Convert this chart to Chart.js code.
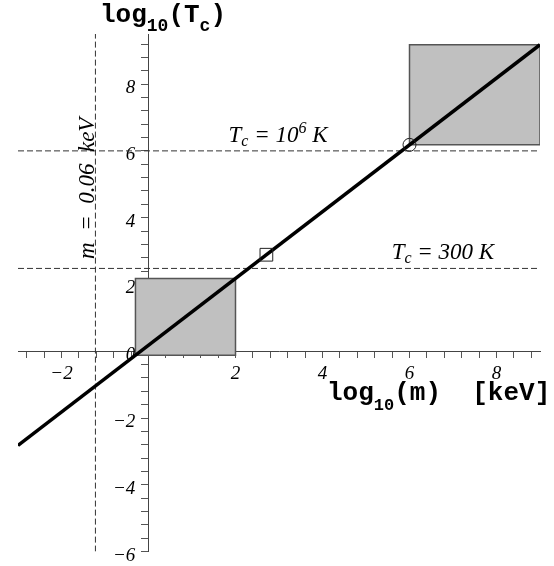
<!DOCTYPE html>
<html>
<head>
<meta charset="utf-8">
<script src="https://cdn.jsdelivr.net/npm/chart.js@4/dist/chart.umd.min.js"></script>
<style>
  body { margin: 0; background: #fff; }
  canvas { display: block; }
</style>
</head>
<body>
<canvas id="chart" width="554" height="566"></canvas>
<script>
// log10(m) vs log10(Tc), Maple-style axes through the origin
const xRange = [-3, 9];
const yRange = [-6, 9.5];
const xTickLabels = [-2, 2, 4, 6, 8];
const yTickLabels = [-6, -4, -2, 0, 2, 4, 6, 8];

// main relation
const lineX = [-3, 9];
const lineY = [-2.82, 9.18];

// shaded regions
const boxLowX = [-0.3, 2];
const boxLowY = [-0.12, 2.18];
const boxHighX = [6, 9];
const boxHighY = [6.18, 9.18];

// reference levels: Tc = 10^6 K, Tc = 300 K, m = 0.06 keV
const tempLevels = [6, 2.48];
const massCut = -1.22;

const squarePoint = [2.71, 2.89];
const circlePoint = [6.0, 6.18];

const boxPoints = (xs, ys) => [
  { x: xs[0], y: ys[0] }, { x: xs[1], y: ys[0] },
  { x: xs[1], y: ys[1] }, { x: xs[0], y: ys[1] }, { x: xs[0], y: ys[0] }
];

const minorTicks = (range) => {
  const out = [];
  for (let v = Math.ceil(range[0] / 0.4) * 0.4; v <= range[1] + 1e-9; v += 0.4) {
    out.push({ value: Math.round(v * 10) / 10 });
  }
  return out;
};

const fmt = (v) => String(v).replace('-', '\u2212');

const dashed = {
  showLine: true, pointRadius: 0, borderWidth: 1, borderColor: '#333',
  borderDash: [6, 3], fill: false, order: 3
};

const tickFont = { family: 'Liberation Serif', style: 'italic', size: 19 };

function drawRuns(ctx, x, y, runs) {
  runs.forEach(r => {
    ctx.font = r.font;
    ctx.fillText(r.t, x, y + (r.dy || 0));
    x += ctx.measureText(r.t).width;
  });
}

const labels = {
  id: 'labels',
  afterDraw(chart) {
    const ctx = chart.ctx;
    const xs = chart.scales.x, ys = chart.scales.y;
    ctx.save();
    ctx.fillStyle = '#000';
    ctx.textBaseline = 'alphabetic';
    ctx.textAlign = 'left';

    const big = 'bold 26px "Liberation Mono"';
    const sub = 'bold 18px "Liberation Mono"';
    drawRuns(ctx, 100, 22, [
      { t: 'log', font: big }, { t: '10', font: sub, dy: 9 },
      { t: '(T', font: big }, { t: 'c', font: sub, dy: 9 }, { t: ')', font: big }
    ]);
    drawRuns(ctx, 327, 400, [
      { t: 'log', font: big }, { t: '10', font: 'bold 17px "Liberation Mono"', dy: 10 },
      { t: '(m)  [keV]', font: big }
    ]);

    const it = 'italic 23px "Liberation Serif"';
    const itSmall = 'italic 16px "Liberation Serif"';
    drawRuns(ctx, xs.getPixelForValue(1.84), ys.getPixelForValue(6.27), [
      { t: 'T', font: it }, { t: 'c', font: itSmall, dy: 4 },
      { t: ' = 10', font: it }, { t: '6', font: itSmall, dy: -9 }, { t: ' K', font: it }
    ]);
    drawRuns(ctx, xs.getPixelForValue(5.59), ys.getPixelForValue(2.75), [
      { t: 'T', font: it }, { t: 'c', font: itSmall, dy: 4 },
      { t: ' = 300 K', font: it }
    ]);

    ctx.translate(xs.getPixelForValue(massCut) - 1, ys.getPixelForValue(4.88));
    ctx.rotate(-Math.PI / 2);
    ctx.textAlign = 'center';
    ctx.font = it;
    ctx.fillText('m  =  0.06  keV', 0, 0);
    ctx.restore();
  }
};

new Chart(document.getElementById('chart').getContext('2d'), {
  type: 'scatter',
  data: {
    datasets: [
      {
        data: [{ x: squarePoint[0], y: squarePoint[1] }],
        pointStyle: 'rect', pointRadius: 9, borderWidth: 1,
        borderColor: '#222', backgroundColor: 'rgba(0,0,0,0)', order: 0
      },
      {
        data: [{ x: circlePoint[0], y: circlePoint[1] }],
        pointStyle: 'circle', pointRadius: 6.5, borderWidth: 1,
        borderColor: '#222', backgroundColor: 'rgba(0,0,0,0)', order: 0
      },
      {
        data: lineX.map((x, i) => ({ x, y: lineY[i] })),
        showLine: true, pointRadius: 0, borderWidth: 3.5,
        borderColor: '#000', fill: false, order: 1
      },
      { ...dashed, data: [{ x: xRange[0], y: tempLevels[0] }, { x: xRange[1], y: tempLevels[0] }] },
      { ...dashed, data: [{ x: xRange[0], y: tempLevels[1] }, { x: xRange[1], y: tempLevels[1] }] },
      { ...dashed, data: [{ x: massCut, y: yRange[0] }, { x: massCut, y: yRange[1] }] },
      {
        data: boxPoints(boxLowX, boxLowY),
        showLine: true, pointRadius: 0, borderWidth: 1.5, borderColor: '#555',
        backgroundColor: '#c0c0c0', fill: 'shape', order: 5
      },
      {
        data: boxPoints(boxHighX, boxHighY),
        showLine: true, pointRadius: 0, borderWidth: 1.5, borderColor: '#555',
        backgroundColor: '#c0c0c0', fill: 'shape', order: 5
      }
    ]
  },
  options: {
    responsive: false,
    animation: false,
    layout: { padding: { left: 18, right: 14, top: 34, bottom: 9 } },
    plugins: { legend: { display: false }, tooltip: { enabled: false } },
    scales: {
      x: {
        type: 'linear', min: xRange[0], max: xRange[1],
        position: { y: 0 },
        afterFit: (s) => { s.height = 0; },
        afterBuildTicks: (s) => { s.ticks = minorTicks(xRange); },
        ticks: {
          autoSkip: false, maxRotation: 0, padding: 5, color: '#000', font: tickFont,
          callback: (v) => xTickLabels.includes(v) ? fmt(v) : ''
        },
        grid: { drawOnChartArea: false, tickLength: 6, color: '#555' },
        border: { color: '#444', width: 1 }
      },
      y: {
        type: 'linear', min: yRange[0], max: yRange[1],
        position: { x: 0 },
        afterFit: (s) => { s.width = 0; },
        afterBuildTicks: (s) => { s.ticks = minorTicks(yRange); },
        ticks: {
          autoSkip: false, labelOffset: 4, color: '#000', font: tickFont,
          callback: (v) => yTickLabels.includes(v) ? fmt(v) + '\u2002\u2009' : ''
        },
        grid: { drawOnChartArea: false, tickLength: 7, color: '#555' },
        border: { color: '#444', width: 1 }
      }
    }
  },
  plugins: [labels]
});
</script>
</body>
</html>
